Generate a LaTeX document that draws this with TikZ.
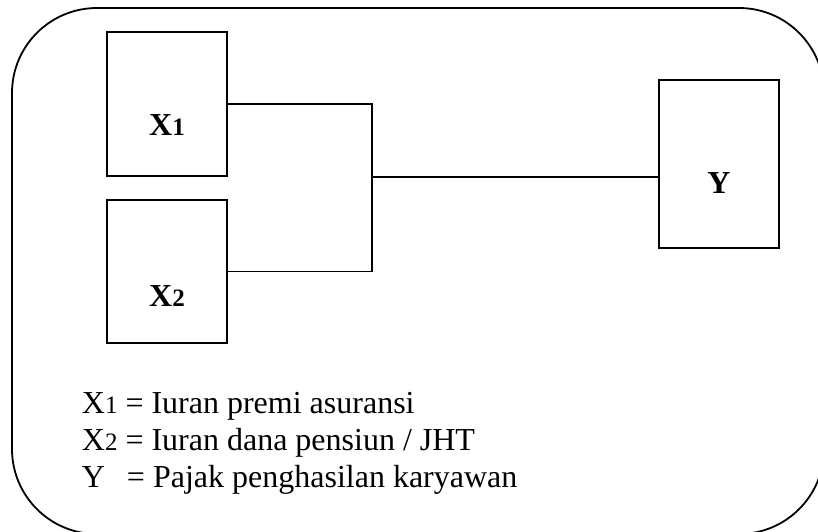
\documentclass[tikz,border=0pt]{standalone}
\usepackage{fontspec}
\setmainfont{Liberation Serif}
\usepackage{tikz}
\tikzstyle{kotak}=[rectangle, draw=black, minimum width=120pt, minimum height=144pt, inner sep=0pt]
\tikzstyle{labelkotak}=[font=\fontsize{32}{32}\selectfont\bfseries, inner sep=0pt]
\tikzstyle{keterangan}=[font=\fontsize{32}{37}\selectfont, anchor=base west, inner sep=0pt]
\newcommand{\angka}[1]{{\fontsize{25}{25}\selectfont #1}}

\begin{document}
\begin{tikzpicture}[x=1pt, y=-1pt, line width=1.8pt]
	\useasboundingbox (0,0) rectangle (818,531);
	\clip (0,0) rectangle (818,531);
	\draw[rounded corners=85pt] (12,8) rectangle (824,534);
	\node[kotak] (x1) at (167,104){};
	\node[kotak, minimum height=143pt] (x2) at (167,271.5){};
	\node[kotak, minimum height=168pt] (y) at (719,164){};
	\node[labelkotak] (lx1) at ([yshift=-21pt]x1.center){X\angka{1}};
	\node[labelkotak] (lx2) at ([yshift=-25pt]x2.center){X\angka{2}};
	\node[labelkotak] (ly) at ([yshift=-19pt]y.center){Y};
	\coordinate (cabang) at (372,177);
	\draw (x1.east) -| (cabang) |- (x2.east);
	\draw (cabang) -- (cabang -| y.west);
	\node[keterangan] (k1) at (81,413){X\angka{1} = Iuran premi asuransi};
	\node[keterangan] (k2) at (81,450){X\angka{2} = Iuran dana pensiun / JHT};
	\node[keterangan] (k3) at (81,487){Y\hspace{22pt}= Pajak penghasilan karyawan};
\end{tikzpicture}
\end{document}
